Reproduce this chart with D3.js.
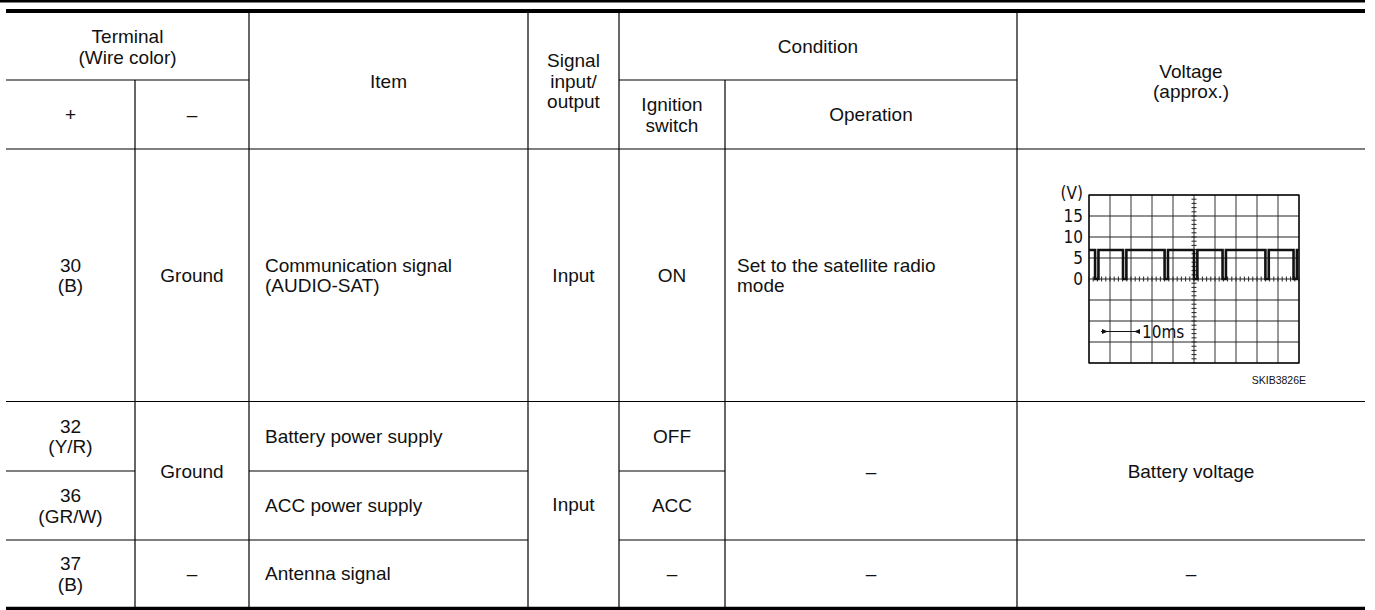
<!DOCTYPE html>
<html>
<head>
<meta charset="utf-8">
<script src="https://cdn.jsdelivr.net/npm/d3@7"></script>
<style>
  html, body { margin: 0; padding: 0; background: #fff; }
  svg { display: block; }
</style>
</head>
<body>
<svg id="chart" width="1375" height="610"></svg>
<script>
// ---------------- DATA ----------------
const headerTerminal = ["Terminal", "(Wire color)"];
const headerPlusMinus = ["+", "–"];
const headerItem = ["Item"];
const headerSignal = ["Signal", "input/", "output"];
const headerCondition = ["Condition"];
const headerIgnition = ["Ignition", "switch"];
const headerOperation = ["Operation"];
const headerVoltage = ["Voltage", "(approx.)"];

const terminalPlus = [["30", "(B)"], ["32", "(Y/R)"], ["36", "(GR/W)"], ["37", "(B)"]];
const terminalMinus = ["Ground", "Ground", "–"];           // row spans: [30], [32,36], [37]
const items = [["Communication signal", "(AUDIO-SAT)"], ["Battery power supply"], ["ACC power supply"], ["Antenna signal"]];
const signalIO = ["Input", "Input"];                        // [30], [32,36,37]
const ignition = ["ON", "OFF", "ACC", "–"];
const operation = [["Set to the satellite radio", "mode"], ["–"], ["–"]]; // [30], [32,36], [37]
const voltage = ["Battery voltage", "–"];                   // [32,36], [37]
const figureCode = "SKIB3826E";

// oscilloscope waveform (time in ms over 10 divisions, volts)
const scopeYTicks = ["15", "10", "5", "0"];
const scopeYTickValues = [15, 10, 5, 0];
const pulseStarts = [2.9, 16.2, 36.0, 50.0, 63.6, 84.0, 97.4];
const pulseWidth = 1.6;
const highLevel = 6.9;
const lowLevel = 0;
const timeLabel = "10ms";

// ---------------- LAYOUT ----------------
const svg = d3.select("#chart");
const FONT = "'Liberation Sans', Arial, Helvetica, sans-serif";
const FS = 19, LH = 20.5;
const X = [6, 135, 249, 528, 619, 725, 1017, 1365];   // column edges
const yTop = 13, yHeadMid = 80, yHeadBot = 149;
const R = [149, 401.5, 471, 540, 607];                // row edges

function line(x1, y1, x2, y2, w = 1.2) {
  svg.append("line").attr("x1", x1).attr("y1", y1).attr("x2", x2).attr("y2", y2)
    .attr("stroke", "#000").attr("stroke-width", w);
}
function text(lines, x, yMid, anchor = "middle") {
  if (!Array.isArray(lines)) lines = [lines];
  const n = lines.length;
  const t = svg.append("text").attr("font-family", FONT).attr("font-size", FS)
    .attr("fill", "#111").attr("text-anchor", anchor);
  lines.forEach((s, i) => {
    t.append("tspan").attr("x", x)
      .attr("y", yMid + (i - (n - 1) / 2) * LH + FS * 0.36)
      .text(s);
  });
}
const cx = (a, b) => (X[a] + X[b]) / 2;
const cy = (a, b) => (a + b) / 2;

// top rules
line(0, 1.2, 1365, 1.2, 2.6);
line(6, 11, 1365, 11, 4);
// bottom rule
line(6, 608.5, 1365, 608.5, 3.4);

// header inner lines
line(X[0], yHeadMid, X[2], yHeadMid);
line(X[4], yHeadMid, X[6], yHeadMid);
line(X[0], yHeadBot, X[7], yHeadBot);
// header verticals
line(X[1], yHeadMid, X[1], yHeadBot);
line(X[2], yTop, X[2], yHeadBot);
line(X[3], yTop, X[3], yHeadBot);
line(X[4], yTop, X[4], yHeadBot);
line(X[5], yHeadMid, X[5], yHeadBot);
line(X[6], yTop, X[6], yHeadBot);

// body verticals
[1, 2, 3, 4, 5, 6].forEach(i => line(X[i], R[0], X[i], 607));

// body horizontals
line(X[0], R[1], X[7], R[1]);
line(X[0], R[2], X[1], R[2]);
line(X[2], R[2], X[3], R[2]);
line(X[4], R[2], X[5], R[2]);
line(X[0], R[3], X[3], R[3]);
line(X[4], R[3], X[7], R[3]);

// header texts
text(headerTerminal, cx(0, 2), cy(yTop, yHeadMid));
text(headerPlusMinus[0], cx(0, 1), cy(yHeadMid, yHeadBot));
text(headerPlusMinus[1], cx(1, 2), cy(yHeadMid, yHeadBot));
text(headerItem, cx(2, 3), cy(yTop, yHeadBot));
text(headerSignal, cx(3, 4), cy(yTop, yHeadBot));
text(headerCondition, cx(4, 6), cy(yTop, yHeadMid));
text(headerIgnition, cx(4, 5), cy(yHeadMid, yHeadBot));
text(headerOperation, cx(5, 6), cy(yHeadMid, yHeadBot));
text(headerVoltage, cx(6, 7), cy(yTop, yHeadBot));

// body texts
terminalPlus.forEach((t, i) => text(t, cx(0, 1), cy(R[i], R[i + 1])));
text(terminalMinus[0], cx(1, 2), cy(R[0], R[1]));
text(terminalMinus[1], cx(1, 2), cy(R[1], R[3]));
text(terminalMinus[2], cx(1, 2), cy(R[3], R[4]));
items.forEach((t, i) => text(t, X[2] + 16, cy(R[i], R[i + 1]), "start"));
text(signalIO[0], cx(3, 4), cy(R[0], R[1]));
text(signalIO[1], cx(3, 4), cy(R[1], R[4]));
ignition.forEach((t, i) => text(t, cx(4, 5), cy(R[i], R[i + 1])));
text(operation[0], X[5] + 12, cy(R[0], R[1]), "start");
text(operation[1], cx(5, 6), cy(R[1], R[3]));
text(operation[2], cx(5, 6), cy(R[3], R[4]));
text(voltage[0], cx(6, 7), cy(R[1], R[3]));
text(voltage[1], cx(6, 7), cy(R[3], R[4]));

// ---------------- OSCILLOSCOPE ----------------
const sx = d3.scaleLinear().domain([0, 100]).range([1089, 1299]);
const sy = d3.scaleLinear().domain([-20, 20]).range([363, 195]);
const scope = svg.append("g");
const NARROW = "'Liberation Sans Narrow', 'DejaVu Sans Condensed', sans-serif";

// grid
scope.selectAll("line.gv").data(sx.ticks(10)).join("line")
  .attr("x1", d => sx(d)).attr("x2", d => sx(d)).attr("y1", sy(20)).attr("y2", sy(-20))
  .attr("stroke", "#333").attr("stroke-width", 1);
scope.selectAll("line.gh").data(sy.ticks(8)).join("line")
  .attr("y1", d => sy(d)).attr("y2", d => sy(d)).attr("x1", sx(0)).attr("x2", sx(100))
  .attr("stroke", "#222").attr("stroke-width", 1);
scope.append("rect").attr("x", sx(0)).attr("y", sy(20)).attr("width", sx(100) - sx(0))
  .attr("height", sy(-20) - sy(20)).attr("fill", "none").attr("stroke", "#000").attr("stroke-width", 1.3);

// minor ticks on centre axes
scope.selectAll("line.tx").data(sx.ticks(50)).join("line")
  .attr("x1", d => sx(d)).attr("x2", d => sx(d)).attr("y1", sy(0) - 2.5).attr("y2", sy(0) + 2.5)
  .attr("stroke", "#222").attr("stroke-width", 1);
scope.selectAll("line.ty").data(sy.ticks(40)).join("line")
  .attr("y1", d => sy(d)).attr("y2", d => sy(d)).attr("x1", sx(50) - 2.5).attr("x2", sx(50) + 2.5)
  .attr("stroke", "#222").attr("stroke-width", 1);

// y labels
scope.selectAll("text.yl").data(scopeYTickValues).join("text")
  .attr("x", 1083).attr("y", d => sy(d) + 6)
  .attr("text-anchor", "end").attr("font-family", NARROW).attr("font-size", 17).attr("fill", "#111")
  .text((d, i) => scopeYTicks[i]);
scope.append("text").attr("x", 1083).attr("y", sy(20) + 4).attr("text-anchor", "end")
  .attr("font-family", NARROW).attr("font-size", 17).attr("fill", "#111").text("(V)");

// waveform
const pts = [[0, highLevel]];
pulseStarts.forEach(s => {
  pts.push([s, highLevel], [s, lowLevel], [s + pulseWidth, lowLevel], [s + pulseWidth, highLevel]);
});
pts.push([100, highLevel]);
scope.append("path").attr("d", d3.line().x(d => sx(d[0])).y(d => sy(d[1]))(pts))
  .attr("fill", "none").attr("stroke", "#111").attr("stroke-width", 2.6);

// time marker
const ay = cy(sy(-10), sy(-15));
scope.append("line").attr("x1", 1101).attr("x2", 1137).attr("y1", ay).attr("y2", ay)
  .attr("stroke", "#111").attr("stroke-width", 1.2);
scope.append("path").attr("d", `M1108,${ay} l-6,-2.5 l0,5 z`).attr("fill", "#111");
scope.append("path").attr("d", `M1134,${ay} l6,-2.5 l0,5 z`).attr("fill", "#111");
scope.append("text").attr("x", 1142).attr("y", ay + 6).attr("font-family", NARROW)
  .attr("font-size", 17).attr("fill", "#111").text(timeLabel);

// figure code
svg.append("text").attr("x", 1306).attr("y", 384).attr("text-anchor", "end")
  .attr("font-family", FONT).attr("font-size", 10.5).attr("fill", "#111").text(figureCode);
</script>
</body>
</html>
